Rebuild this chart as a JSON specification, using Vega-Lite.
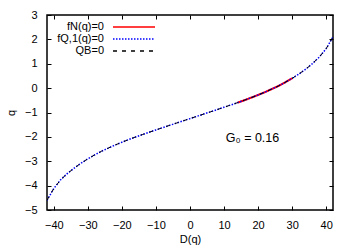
{
  "$schema": "https://vega.github.io/schema/vega-lite/v6.json",
  "width": 286,
  "height": 195,
  "autosize": "none",
  "padding": {"left": 47, "top": 15, "right": 21, "bottom": 38},
  "background": "white",
  "config": {
    "font": "Liberation Sans",
    "view": {"stroke": "black", "strokeWidth": 1.5},
    "axis": {"grid": false, "domain": false, "tickColor": "black", "tickSize": -4, "tickWidth": 1, "labelColor": "black", "labelFontSize": 11, "labelFont": "Liberation Sans", "titleFont": "Liberation Sans", "titleFontSize": 11, "titleFontWeight": "normal", "titleColor": "black"}
  },
  "datasets": {
    "curve": [
      {"D": -42, "q": -4.6}, {"D": -40, "q": -4.12}, {"D": -38, "q": -3.76}, {"D": -36, "q": -3.5},
      {"D": -34, "q": -3.28}, {"D": -32, "q": -3.08}, {"D": -30, "q": -2.9}, {"D": -28, "q": -2.74},
      {"D": -26, "q": -2.59}, {"D": -24, "q": -2.46}, {"D": -22, "q": -2.335}, {"D": -20, "q": -2.22},
      {"D": -18, "q": -2.11}, {"D": -16, "q": -2.005}, {"D": -14, "q": -1.905}, {"D": -12, "q": -1.81},
      {"D": -10, "q": -1.715}, {"D": -8, "q": -1.62}, {"D": -6, "q": -1.527}, {"D": -4, "q": -1.435},
      {"D": -2, "q": -1.342}, {"D": 0, "q": -1.25}, {"D": 2, "q": -1.158}, {"D": 4, "q": -1.065},
      {"D": 6, "q": -0.973}, {"D": 8, "q": -0.88}, {"D": 10, "q": -0.785}, {"D": 12, "q": -0.69},
      {"D": 14, "q": -0.595}, {"D": 16, "q": -0.495}, {"D": 18, "q": -0.39}, {"D": 20, "q": -0.28},
      {"D": 22, "q": -0.165}, {"D": 24, "q": -0.04}, {"D": 26, "q": 0.09}, {"D": 28, "q": 0.24},
      {"D": 30, "q": 0.4}, {"D": 32, "q": 0.58}, {"D": 34, "q": 0.78}, {"D": 36, "q": 1.01},
      {"D": 38, "q": 1.28}, {"D": 40, "q": 1.62}, {"D": 42, "q": 2.1}
    ],
    "note": [{"D": 10.5, "q": -2.05, "label": "G₀ = 0.16"}]
  },
  "layer": [
    {
      "data": {"name": "curve"},
      "transform": [{"filter": "datum.D >= 14 && datum.D <= 31"}],
      "mark": {"type": "line", "strokeWidth": 2, "clip": true},
      "encoding": {
        "x": {"field": "D", "type": "quantitative", "scale": {"domain": [-42, 42], "nice": false, "zero": false}, "axis": {"values": [-40, -30, -20, -10, 0, 10, 20, 30, 40], "title": "D(q)", "labelPadding": 13, "titlePadding": 3}},
        "y": {"field": "q", "type": "quantitative", "scale": {"domain": [-5, 3], "nice": false, "zero": false}, "axis": {"values": [-5, -4, -3, -2, -1, 0, 1, 2, 3], "title": "q", "labelPadding": 14, "titlePadding": 8}},
        "color": {"datum": "fN(q)=0", "type": "nominal", "scale": {"domain": ["fN(q)=0", "fQ,1(q)=0", "QB=0"], "range": ["#ff0000", "#0000ff", "#000000"]}, "legend": {"title": null, "orient": "none", "legendX": 80, "legendY": 5, "symbolType": "M-3.5,0H3.5", "symbolSize": 144, "symbolStrokeWidth": 1.5, "labelAlign": "right", "labelOffset": -37, "labelFontSize": 11, "labelFont": "Liberation Sans", "rowPadding": 0, "padding": 0}},
        "strokeDash": {"datum": "fN(q)=0", "type": "nominal", "scale": {"domain": ["fN(q)=0", "fQ,1(q)=0", "QB=0"], "range": [[1, 0], [1.5, 1.5], [4, 5]]}, "legend": {"title": null, "orient": "none", "legendX": 80, "legendY": 5, "symbolType": "M-3.5,0H3.5", "symbolSize": 144, "symbolStrokeWidth": 1.5, "labelAlign": "right", "labelOffset": -37, "labelFontSize": 11, "labelFont": "Liberation Sans", "rowPadding": 0, "padding": 0}}
      }
    },
    {
      "data": {"name": "curve"},
      "mark": {"type": "line", "strokeWidth": 1.5, "clip": true},
      "encoding": {
        "x": {"field": "D", "type": "quantitative", "axis": null},
        "y": {"field": "q", "type": "quantitative", "axis": null},
        "color": {"datum": "fQ,1(q)=0", "type": "nominal"},
        "strokeDash": {"datum": "fQ,1(q)=0", "type": "nominal"}
      }
    },
    {
      "data": {"name": "curve"},
      "mark": {"type": "line", "strokeWidth": 1, "clip": true},
      "encoding": {
        "x": {"field": "D", "type": "quantitative", "axis": null},
        "y": {"field": "q", "type": "quantitative", "axis": null},
        "color": {"datum": "QB=0", "type": "nominal"},
        "strokeDash": {"datum": "QB=0", "type": "nominal"}
      }
    },
    {
      "data": {"name": "note"},
      "mark": {"type": "text", "align": "left", "baseline": "middle", "fontSize": 12.5, "font": "Liberation Sans", "color": "black"},
      "encoding": {
        "x": {"field": "D", "type": "quantitative", "axis": null},
        "y": {"field": "q", "type": "quantitative", "axis": null},
        "text": {"field": "label"}
      }
    },
    {
      "data": {"values": [{"D": 0, "q": 0}]},
      "mark": {"type": "point", "opacity": 0},
      "encoding": {
        "x": {"field": "D", "type": "quantitative", "axis": {"orient": "top", "values": [-40, -30, -20, -10, 0, 10, 20, 30, 40], "labels": false, "title": null}},
        "y": {"field": "q", "type": "quantitative", "axis": {"orient": "right", "values": [-5, -4, -3, -2, -1, 0, 1, 2, 3], "labels": false, "title": null}}
      }
    }
  ],
  "resolve": {"axis": {"x": "independent", "y": "independent"}}
}
